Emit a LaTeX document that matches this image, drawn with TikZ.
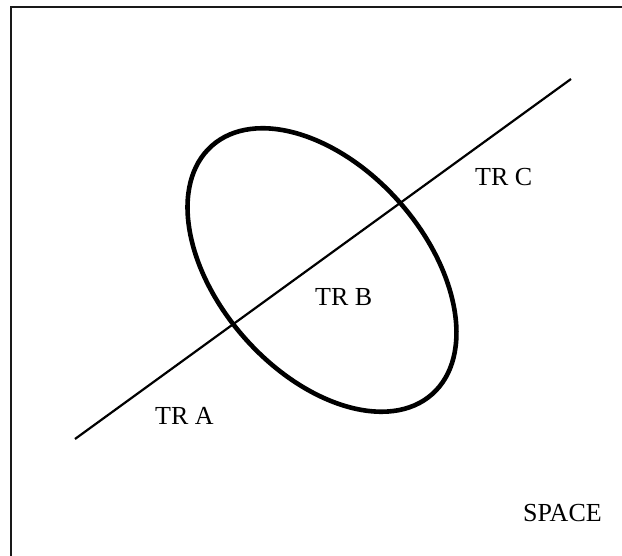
\documentclass[tikz,border=0pt]{standalone}
\usepackage{fontspec}
\setmainfont{Liberation Serif}
\begin{document}
\begin{tikzpicture}[x=1pt,y=1pt,
  lbl/.style={anchor=base west,inner sep=0pt,font=\fontsize{26}{30}\selectfont},
  frame/.style={line width=2pt,black!90},
  axisline/.style={line width=2.2pt},
  ring/.style={line width=4.6pt}]
\useasboundingbox (0,0) rectangle (622,556);
% frame (only left and top edges visible)
\coordinate (fbl) at (11,0);
\coordinate (ftl) at (11,549);
\coordinate (ftr) at (622,549);
\draw[frame] (fbl) -- (ftl) -- (ftr);
% line
\coordinate (la) at (75,117);
\coordinate (lb) at (571,477);
\draw[axisline] (la) -- (lb);
% ellipse
\coordinate (ec) at (322,286);
\draw[ring,rotate around={-48.4:(ec)}] (ec) ellipse [x radius=166, y radius=103];
% labels
\node[lbl] (tra) at (155,131) {TR A};
\node[lbl] (trb) at (315,250) {TR B};
\node[lbl] (trc) at (475,370) {TR C};
\node[lbl] (space) at (523,34) {SPACE};
\end{tikzpicture}
\end{document}
